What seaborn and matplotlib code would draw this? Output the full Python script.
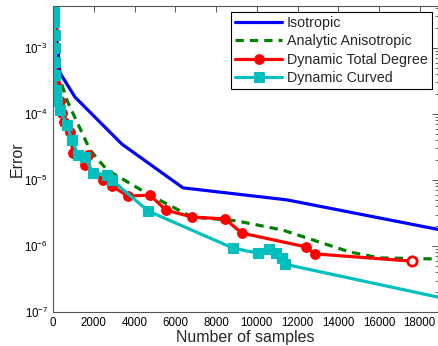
import numpy as np
import pandas as pd
import matplotlib
matplotlib.use("Agg")
import matplotlib.pyplot as plt
import seaborn as sns
from matplotlib.ticker import LogLocator, NullFormatter

# ---- data ----
iso_x = [100, 250, 340, 1080, 3380, 6380, 11480, 20000]
iso_y = [2.5e-3, 9.0e-4, 4.2e-4, 1.8e-4, 3.5e-5, 7.6e-6, 5.0e-6, 1.53e-6]

ana_x = [0, 150, 400, 690, 1815, 2650, 4760, 6820, 9020, 11280, 14570, 16040, 19500]
ana_y = [6e-3, 8e-4, 3e-4, 1.6e-4, 2.85e-5, 1.42e-5, 5.9e-6, 2.75e-6, 2.4e-6, 1.74e-6, 8.1e-7, 6.6e-7, 6.3e-7]

dtd_x = [20, 20, 20, 20, 50, 150, 340, 440, 540, 830, 980, 1720, 1570, 2450, 2890, 3680,
         4760, 5540, 6820, 8440, 9270, 12410, 12850, 17600]
dtd_y = [2.6e-3, 1.9e-3, 1.1e-3, 6.6e-4, 4.3e-4, 2.75e-4, 1.6e-4, 1.04e-4, 7.6e-5, 5.3e-5,
         2.6e-5, 2.4e-5, 1.7e-5, 1.0e-5, 8.1e-6, 5.7e-6, 5.9e-6, 3.5e-6, 2.75e-6, 2.57e-6,
         1.57e-6, 9.7e-7, 7.6e-7, 5.9e-7]

dc_x = [50, 50, 100, 100, 100, 100, 150, 200, 340, 690, 930, 1230, 1570, 1960, 2650, 2890,
        4660, 8830, 10050, 10590, 10940, 11230, 11380, 20000]
dc_y = [3.5e-3, 2.5e-3, 1.6e-3, 1.0e-3, 6.1e-4, 3.9e-4, 2.3e-4, 1.6e-4, 1.15e-4, 6.8e-5,
        4.0e-5, 2.4e-5, 2.2e-5, 1.28e-5, 1.19e-5, 1.0e-5, 3.4e-6, 9.3e-7, 7.8e-7, 9.0e-7,
        7.8e-7, 6.6e-7, 5.3e-7, 1.42e-7]

x_ticks = [0, 2000, 4000, 6000, 8000, 10000, 12000, 14000, 16000, 18000]

sns.set_style("white")
plt.rcParams['font.family'] = ['Liberation Sans', 'DejaVu Sans']

W, H = 438, 346
fig = plt.figure(figsize=(W / 100, H / 100), dpi=100)
ax = fig.add_axes([53 / W, 34 / H, 384.5 / W, 306 / H])

blue = (0, 0, 1)
green = (0, 0.5, 0)
red = (1, 0, 0)
cyan = (0, 0.75, 0.75)

sns.lineplot(x=iso_x, y=iso_y, sort=False, estimator=None, ax=ax, color=blue, lw=2.3,
             label="Isotropic")
sns.lineplot(x=ana_x, y=ana_y, sort=False, estimator=None, ax=ax, color=green, lw=2.3,
             dashes=False, linestyle=(0, (2.6, 1.9)), label="Analytic Anisotropic")
n = len(dtd_x)
sns.lineplot(x=dtd_x, y=dtd_y, sort=False, estimator=None, ax=ax, color=red, lw=2.3,
             marker='o', markersize=7, markeredgecolor=red, markevery=list(range(n - 1)),
             label="Dynamic Total Degree")
sns.scatterplot(x=dtd_x[-1:], y=dtd_y[-1:], ax=ax, s=45, facecolor='white',
                edgecolor=red, linewidth=2, zorder=5)
sns.lineplot(x=dc_x, y=dc_y, sort=False, estimator=None, ax=ax, color=cyan, lw=2.3,
             marker='s', markersize=6.5, markeredgecolor=cyan,
             markevery=list(range(len(dc_x) - 1)), label="Dynamic Curved")

ax.set_yscale('log')
ax.set_xlim(0, 18870)
ax.set_ylim(1e-7, 10 ** (-2.364))
ax.set_xticks(x_ticks)
ax.set_xticklabels([str(t) for t in x_ticks])
ax.yaxis.set_major_locator(LogLocator(base=10, numticks=10))
ax.yaxis.set_minor_locator(LogLocator(base=10, subs=np.arange(2, 10), numticks=100))
ax.yaxis.set_minor_formatter(NullFormatter())

for s in ax.spines.values():
    s.set_color('#555555')
    s.set_linewidth(0.8)
ax.tick_params(axis='both', which='both', direction='in', top=True, right=True,
               colors='#555555', labelcolor='black', labelsize=8.3)
ax.tick_params(which='major', length=4, width=0.7)
ax.tick_params(which='minor', length=2, width=0.6)

ax.set_xlabel("Number of samples", fontsize=11.5, labelpad=1)
ax.set_ylabel("Error", fontsize=11.5, labelpad=-0.5)

leg = ax.legend(loc='upper right', fontsize=10.3, frameon=True, fancybox=False,
                handlelength=3.3, handletextpad=0.3, labelspacing=0.3,
                borderpad=0.3, borderaxespad=0.4, framealpha=1)
leg.get_frame().set_edgecolor('black')
leg.get_frame().set_linewidth(0.8)

fig.savefig("out.png", dpi=100)
